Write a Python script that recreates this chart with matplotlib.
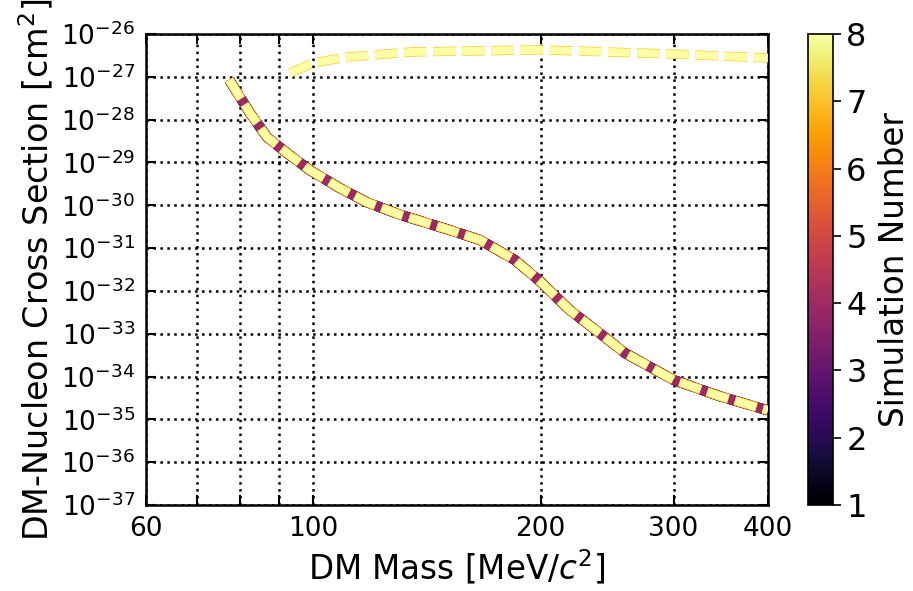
import matplotlib
matplotlib.use('Agg')
import matplotlib.pyplot as plt
import matplotlib.colors as mcolors
import matplotlib.ticker as mticker
import numpy as np

# simulations shown on the colour bar
sims = [1, 2, 3, 4, 5, 6, 7, 8]

# lower branch of the limit (MeV/c^2, cm^2)
mass_low = [77.3, 82.4, 86.8, 92.2, 98.9, 108.4, 117.7, 130.2, 151.6, 166.2, 184.9,
            200.0, 218.6, 239.6, 258.6, 300.0, 345.5, 400.0]
sigma_low = [10**-27.07, 10**-27.85, 10**-28.41, 10**-28.78, 10**-29.18, 10**-29.60,
             10**-29.93, 10**-30.22, 10**-30.58, 10**-30.81, 10**-31.28, 10**-31.79,
             10**-32.45, 10**-32.99, 10**-33.45, 10**-34.08, 10**-34.46, 10**-34.79]

# upper branch, only reached by the last simulations
mass_up = [93.1, 99.8, 110.5, 135.0, 200.0, 300.0, 400.0]
sigma_up = [10**-26.91, 10**-26.68, 10**-26.54, 10**-26.42, 10**-26.37,
            10**-26.47, 10**-26.56]
upper_sims = [7, 8]

plt.rcParams['lines.scale_dashes'] = False

cmap = plt.get_cmap('inferno')
norm = mcolors.Normalize(vmin=1, vmax=8)

fig = plt.figure(figsize=(9.13, 5.91), dpi=100)
ax = fig.add_axes([0.16, 0.1455, 0.681, 0.797])
cax = fig.add_axes([0.885, 0.1455, 0.0274, 0.797])

# drawing style per simulation: width and dash phase
widths = [7.4, 7.2, 7.2, 7.0, 6.7, 6.7, 6.7, 5.8]
offsets = [5.0, 3.0, 9.0, 12.0, 0.0, 0.0, 0.0, 0.0]
for s, lw, off in zip(sims, widths, offsets):
    color = cmap(norm(s))
    ax.plot(mass_low, sigma_low, color=color, lw=lw,
            linestyle=(off, (16, 5)), zorder=3)
    if s in upper_sims:
        ax.plot(mass_up, sigma_up, color=color, lw=lw,
                linestyle=(off, (16, 5)), zorder=3)

ax.set_xscale('log')
ax.set_yscale('log')
ax.set_xlim(60, 400)
ax.set_ylim(1e-37, 1e-26)

ax.set_xticks([60, 70, 80, 90, 100, 200, 300, 400])
ax.set_xticklabels(['60', '', '', '', '100', '200', '300', '400'])
ax.xaxis.set_minor_locator(mticker.NullLocator())
ax.set_yticks([10.0**e for e in range(-37, -25)])
ax.yaxis.set_minor_locator(mticker.NullLocator())

ax.tick_params(direction='in', top=True, right=True, length=7, width=1.5,
               labelsize=19, pad=8)
ax.grid(True, which='major', linestyle=(0, (1.8, 3.2)), color='k', lw=1.8)
for sp in ax.spines.values():
    sp.set_linewidth(1.8)

ax.set_xlabel('DM Mass [MeV/$c^2$]', fontsize=23.5)
ax.set_ylabel('DM-Nucleon Cross Section [cm$^2$]', fontsize=24)

sm = matplotlib.cm.ScalarMappable(norm=norm, cmap=cmap)
cb = fig.colorbar(sm, cax=cax, ticks=sims)
cb.ax.tick_params(labelsize=23, length=6, width=1.2)
cb.set_label('Simulation Number', fontsize=23.5, labelpad=8)
cb.outline.set_linewidth(1.2)

fig.savefig('out.png', dpi=100)
